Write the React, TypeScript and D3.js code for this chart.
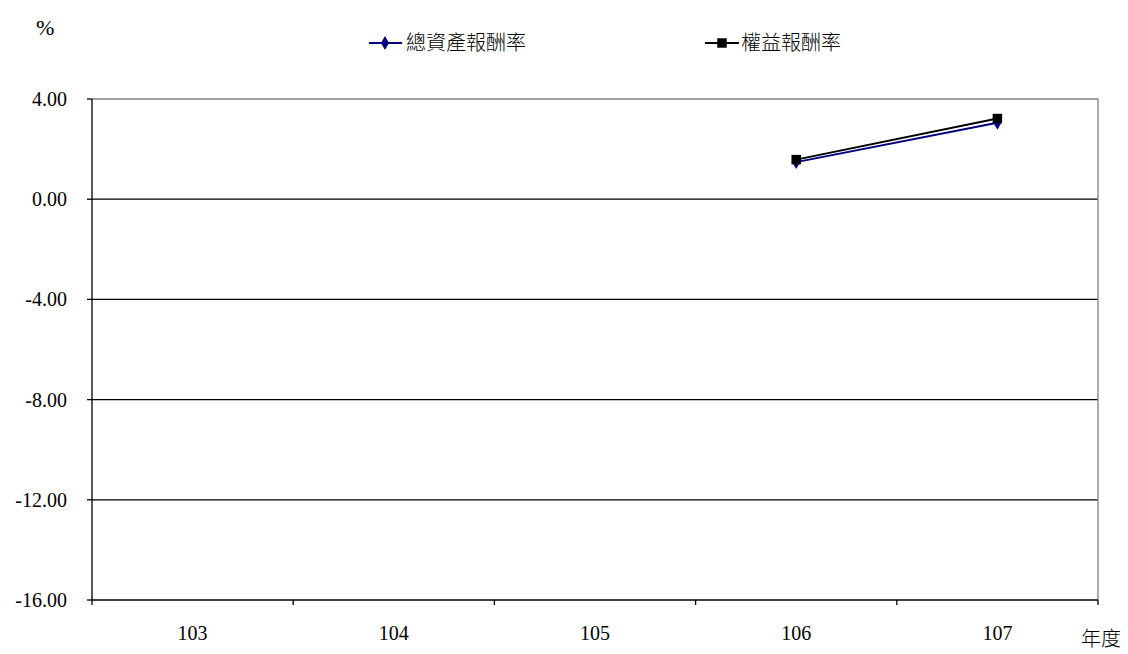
import React, { useEffect, useRef } from "react";
import * as d3 from "d3";

const years = ["103", "104", "105", "106", "107"];
const roaValues: (number | null)[] = [null, null, null, 1.48, 3.05];
const roeValues: (number | null)[] = [null, null, null, 1.58, 3.22];
const yTicks = [4, 0, -4, -8, -12, -16];
const seriesNames = ["總資產報酬率", "權益報酬率"];

export default function App() {
  const ref = useRef<SVGSVGElement>(null);
  useEffect(() => {
    const svg = d3.select(ref.current!);
    svg.selectAll("*").remove();
    const W = 1128, H = 654;
    const left = 92, right = 1098, top = 99, bottom = 600;
    const serif = "'Liberation Serif', 'DejaVu Serif', serif";
    const cjk = "'Noto Sans CJK TC', sans-serif";

    const x = d3.scaleBand<string>().domain(years).range([left, right]);
    const y = d3.scaleLinear().domain([-16, 4]).range([bottom, top]);

    svg.append("rect").attr("width", W).attr("height", H).attr("fill", "#fff");

    yTicks.forEach((t) => {
      if (t === 4 || t === -16) return;
      svg.append("line").attr("x1", left).attr("x2", right)
        .attr("y1", y(t)).attr("y2", y(t)).attr("stroke", "#000").attr("stroke-width", 1.3);
    });
    svg.append("line").attr("x1", left).attr("x2", right).attr("y1", top).attr("y2", top)
      .attr("stroke", "#808080").attr("stroke-width", 1.3);
    svg.append("line").attr("x1", right).attr("x2", right).attr("y1", top).attr("y2", bottom)
      .attr("stroke", "#808080").attr("stroke-width", 1.3);
    svg.append("line").attr("x1", left).attr("x2", left).attr("y1", top).attr("y2", bottom)
      .attr("stroke", "#000").attr("stroke-width", 1.3);
    svg.append("line").attr("x1", left).attr("x2", right).attr("y1", bottom).attr("y2", bottom)
      .attr("stroke", "#000").attr("stroke-width", 1.3);

    yTicks.forEach((t) => {
      svg.append("line").attr("x1", left - 5).attr("x2", left).attr("y1", y(t)).attr("y2", y(t))
        .attr("stroke", "#000").attr("stroke-width", 1.3);
      svg.append("text").attr("x", 67).attr("y", y(t)).attr("dy", "0.35em")
        .attr("text-anchor", "end").attr("font-family", serif).attr("font-size", 20)
        .text(t.toFixed(2));
    });
    years.forEach((yr, i) => {
      const x0 = x(yr)!;
      svg.append("line").attr("x1", x0).attr("x2", x0).attr("y1", bottom).attr("y2", bottom + 5)
        .attr("stroke", "#000").attr("stroke-width", 1.3);
      if (i === years.length - 1) {
        svg.append("line").attr("x1", right).attr("x2", right).attr("y1", bottom).attr("y2", bottom + 5)
          .attr("stroke", "#000").attr("stroke-width", 1.3);
      }
      svg.append("text").attr("x", x0 + x.bandwidth() / 2).attr("y", 640)
        .attr("text-anchor", "middle").attr("font-family", serif).attr("font-size", 20).text(yr);
    });

    svg.append("text").attr("x", 36).attr("y", 35).attr("font-family", serif)
      .attr("font-size", 22).text("%");
    svg.append("text").attr("x", 1081).attr("y", 646).attr("font-family", cjk)
      .attr("font-size", 20).attr("font-weight", 300).text("年度");

    const cx = (i: number) => x(years[i])! + x.bandwidth() / 2;
    const line = d3.line<number | null>()
      .defined((d) => d !== null)
      .x((_, i) => cx(i))
      .y((d) => y(d as number));

    const diamond = d3.symbol().type(d3.symbolDiamond).size(55);
    const square = d3.symbol().type(d3.symbolSquare).size(90);

    svg.append("path").attr("d", line(roaValues)!).attr("fill", "none")
      .attr("stroke", "#000080").attr("stroke-width", 2);
    svg.append("path").attr("d", line(roeValues)!).attr("fill", "none")
      .attr("stroke", "#000").attr("stroke-width", 2);
    roaValues.forEach((v, i) => {
      if (v === null) return;
      svg.append("path").attr("d", diamond()!).attr("transform", `translate(${cx(i)},${y(v)})`)
        .attr("fill", "#000080");
    });
    roeValues.forEach((v, i) => {
      if (v === null) return;
      svg.append("path").attr("d", square()!).attr("transform", `translate(${cx(i)},${y(v)})`)
        .attr("fill", "#000");
    });

    const ly = 43;
    svg.append("line").attr("x1", 369).attr("x2", 402).attr("y1", ly).attr("y2", ly)
      .attr("stroke", "#000080").attr("stroke-width", 2);
    svg.append("path").attr("d", diamond()!).attr("transform", `translate(385,${ly})`).attr("fill", "#000080");
    svg.append("text").attr("x", 406).attr("y", ly).attr("dy", "0.35em").attr("font-family", cjk)
      .attr("font-size", 20).attr("font-weight", 300).text(seriesNames[0]);
    svg.append("line").attr("x1", 705).attr("x2", 739).attr("y1", ly).attr("y2", ly)
      .attr("stroke", "#000").attr("stroke-width", 2);
    svg.append("path").attr("d", square()!).attr("transform", `translate(722,${ly})`).attr("fill", "#000");
    svg.append("text").attr("x", 741).attr("y", ly).attr("dy", "0.35em").attr("font-family", cjk)
      .attr("font-size", 20).attr("font-weight", 300).text(seriesNames[1]);
  }, []);
  return (
    <svg ref={ref} width={1128} height={654}
      style={{ position: "absolute", left: 0, top: 0, display: "block" }} />
  );
}
